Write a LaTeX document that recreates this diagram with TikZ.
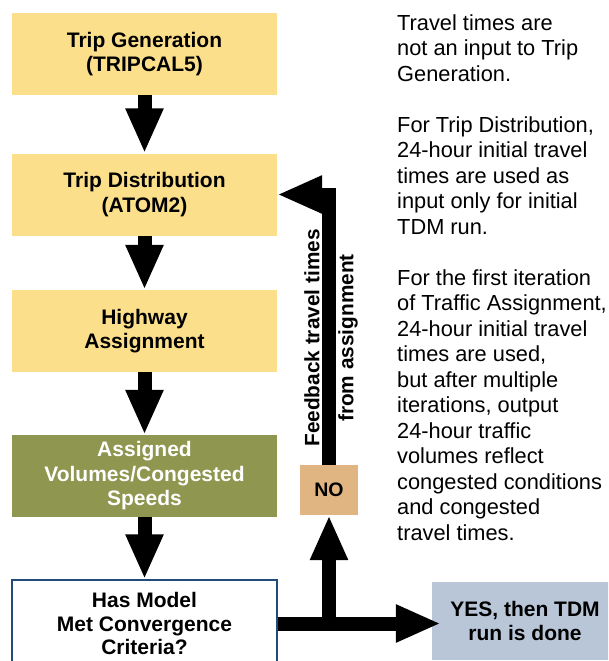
\documentclass[tikz,border=0pt]{standalone}
\usepackage{fontspec}
\setmainfont{Liberation Sans}
\usepackage{xcolor}
\usetikzlibrary{arrows.meta}

\definecolor{stepyellow}{RGB}{251,223,139}
\definecolor{stepolive}{RGB}{143,150,80}
\definecolor{notan}{RGB}{224,181,130}
\definecolor{yesgray}{RGB}{184,198,216}
\definecolor{modelnavy}{RGB}{36,74,122}

\begin{document}
\begin{tikzpicture}[x=1pt,y=-1pt,
  stepbox/.style={minimum width=265pt,minimum height=82pt,inner sep=0pt,align=center,font=\bfseries\fontsize{21}{24.5}\selectfont},
  bigarrow/.style={line width=14pt,-{Triangle[length=45pt,width=35pt]}},
  sidetext/.style={rotate=90,inner sep=0pt,font=\bfseries\fontsize{20.8}{24}\selectfont}]
\useasboundingbox (0,0) rectangle (608,661);
\clip (0,0) rectangle (608,661);
\node[stepbox,fill=stepyellow] (gen) at (144.5,54) {Trip Generation\\(TRIPCAL5)};
\node[stepbox,fill=stepyellow] (dist) at (144.5,194.5) {Trip Distribution\\(ATOM2)};
\node[stepbox,fill=stepyellow] (hwy) at (144.5,331) {Highway\\Assignment};
\node[stepbox,fill=stepolive,text=white] (vol) at (144.5,476) {Assigned\\Volumes/Congested\\Speeds};
\node[stepbox,draw=modelnavy,line width=1.5pt,fill=white,minimum height=87pt,font=\bfseries\fontsize{21}{23.5}\selectfont] (model) at (144.5,623.5) {Has Model\\Met Convergence\\Criteria?};
\node[stepbox,fill=yesgray,minimum width=186pt,minimum height=78pt] (yes) at (525,621) {YES, then TDM\\run is done};
\node[stepbox,fill=notan,minimum width=58pt,minimum height=50pt,font=\bfseries\fontsize{19.5}{23}\selectfont] (no) at (329,490) {NO};
\draw[bigarrow] (gen) -- (dist);
\draw[bigarrow] (dist) -- (hwy);
\draw[bigarrow] (hwy) -- (vol);
\draw[bigarrow] (vol) -- (model);
\coordinate (yesin) at ([xshift=9pt]yes.west);
\draw[bigarrow] (model.east) -- (yesin |- model.east);
\coordinate (split) at (no.south |- model.east);
\draw[bigarrow] (split) -- (no.south);
\draw[bigarrow] (no.north) |- (dist.east);
\node[sidetext] (fbtop) at (312,338) {Feedback travel times};
\node[sidetext] (fbbot) at (348,338) {from assignment};
\node[anchor=north west,inner sep=0pt,align=left,font=\fontsize{21.8}{25.5}\selectfont] (notes) at (397,14) {Travel times are\\not an input to Trip\\Generation.\\[25.5pt]
For Trip Distribution,\\24-hour initial travel\\times are used as\\input only for initial\\TDM run.\\[25.5pt]
For the first iteration\\of Traffic Assignment,\\24-hour initial travel\\times are used,\\but after multiple\\iterations, output\\24-hour traffic\\volumes reflect\\congested conditions\\and congested\\travel times.};
\end{tikzpicture}
\end{document}
